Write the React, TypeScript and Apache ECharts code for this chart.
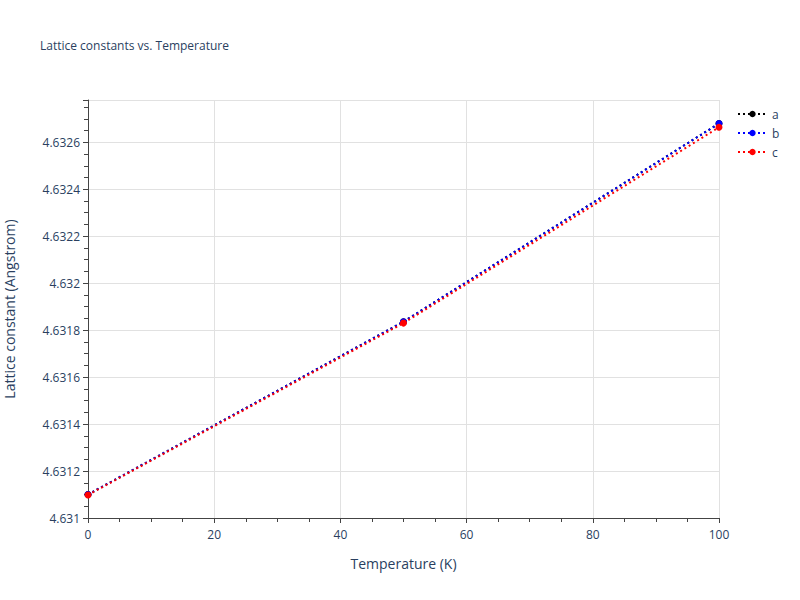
import { useEffect, useRef } from 'react';
import * as echarts from 'echarts';

const temperatures = [0, 50, 100];
const latticeA = [4.6311, 4.631836, 4.63268];
const latticeB = [4.6311, 4.631836, 4.63268];
const latticeC = [4.631098, 4.63183, 4.632664];

const seriesNames = ['a', 'b', 'c'];
const seriesColors = ['#000000', '#0000ff', '#ff0000'];

const FONT = '"Open Sans", verdana, arial, sans-serif';
const TEXT = '#2a3f5f';

export default function App() {
  const chartRef = useRef<HTMLDivElement>(null);

  useEffect(() => {
    if (!chartRef.current) return;
    const chart = echarts.init(chartRef.current, null, { renderer: 'svg' });

    const values = [latticeA, latticeB, latticeC];

    const option: echarts.EChartsOption = {
      animation: false,
      backgroundColor: '#fff',
      textStyle: { fontFamily: FONT },
      title: {
        text: 'Lattice constants vs. Temperature',
        left: 35,
        top: 34,
        textStyle: { fontFamily: FONT, fontSize: 12, fontWeight: 'normal', color: TEXT },
      },
      legend: {
        orient: 'vertical',
        left: 732,
        top: 103,
        itemGap: 7,
        itemWidth: 29,
        itemHeight: 8,
        textStyle: { fontFamily: FONT, fontSize: 12, color: TEXT },
        data: seriesNames,
      },
      grid: { left: 88, right: 81, top: 100, bottom: 82, outerBoundsMode: 'none' } as any,
      xAxis: {
        type: 'value',
        min: 0,
        max: 100,
        interval: 20,
        name: 'Temperature (K)',
        nameLocation: 'middle',
        nameGap: 38,
        nameTextStyle: { fontFamily: FONT, fontSize: 14, color: TEXT },
        axisLine: { show: true, onZero: false, lineStyle: { color: '#444', width: 1 } },
        axisTick: { show: true, length: 5, lineStyle: { color: '#444' } },
        minorTick: { show: true, splitNumber: 4, length: 4, lineStyle: { color: '#444' } },
        axisLabel: { fontFamily: FONT, fontSize: 12, color: TEXT, margin: 10 },
        splitLine: { show: true, lineStyle: { color: '#e1e1e1' } },
      },
      yAxis: {
        type: 'value',
        min: 4.631,
        max: 4.63278,
        interval: 0.0002,
        name: 'Lattice constant (Angstrom)',
        nameLocation: 'middle',
        nameGap: 72,
        nameTextStyle: { fontFamily: FONT, fontSize: 14, color: TEXT },
        axisLine: { show: true, onZero: false, lineStyle: { color: '#444', width: 1 } },
        axisTick: { show: true, length: 5, lineStyle: { color: '#444' } },
        minorTick: { show: true, splitNumber: 4, length: 4, lineStyle: { color: '#444' } },
        axisLabel: {
          fontFamily: FONT,
          fontSize: 12,
          color: TEXT,
          margin: 8,
          formatter: (v: number) => String(parseFloat(v.toFixed(4))),
          showMaxLabel: false,
        },
        splitLine: { show: true, lineStyle: { color: '#e1e1e1' } },
      },
      series: seriesNames.map((name, i) => ({
        name,
        type: 'line',
        data: temperatures.map((t, j) => [t, values[i][j]]),
        symbol: 'circle',
        symbolSize: 7,
        showSymbol: true,
        clip: false,
        itemStyle: { color: seriesColors[i] },
        lineStyle: { color: seriesColors[i], width: 2, type: [2, 3] },
        z: 2 + i,
      })),
    };

    chart.setOption(option);
    return () => chart.dispose();
  }, []);

  return (
    <div
      ref={chartRef}
      style={{ position: 'absolute', left: 0, top: 0, width: 800, height: 600 }}
    />
  );
}
